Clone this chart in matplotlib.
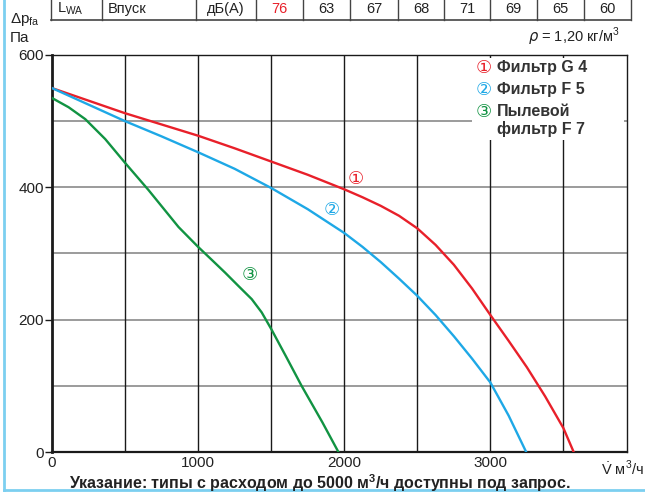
import matplotlib
matplotlib.use("Agg")
import matplotlib.pyplot as plt
from matplotlib.lines import Line2D

# ---- data ----
table_cells = ["L$_{\\mathregular{WA}}$", "Впуск", "дБ(А)", "76", "63", "67", "68", "71", "69", "65", "60"]
table_edges_px = [51, 102, 196, 256, 303, 350, 398, 444, 490, 537, 584, 631]

red_x = [0, 250, 500, 750, 1000, 1250, 1500, 1750, 2000, 2125, 2250, 2375, 2500, 2625, 2750, 2875,
         3000, 3125, 3250, 3375, 3500, 3570]
red_y = [550, 531, 512, 495, 478, 459, 439, 419, 397, 385, 372, 357, 338, 313, 283, 247,
         207, 168, 128, 84, 36, 0]

blue_x = [0, 250, 500, 750, 1000, 1250, 1500, 1750, 2000, 2125, 2250, 2375, 2500, 2625, 2750, 2875,
          3000, 3125, 3245]
blue_y = [550, 525, 500, 477, 453, 428, 399, 367, 331, 310, 287, 262, 236, 207, 175, 141,
          105, 55, 0]

green_x = [0, 114, 228, 364, 500, 660, 866, 1000, 1100, 1185, 1280, 1367, 1435, 1500, 1600, 1708,
           1850, 1960]
green_y = [535, 521, 503, 473, 437, 396, 340, 310, 289, 271, 250, 231, 211, 186, 145, 100,
           45, 0]

series_names = ["Фильтр G 4", "Фильтр F 5", "Пылевой\nфильтр F 7"]
series_marks = ["①", "②", "③"]
colors = ["#e8202a", "#1ea8e6", "#119342"]

x_ticks = [0, 1000, 2000, 3000]
y_ticks = [0, 200, 400, 600]

W, H = 645, 495
fig = plt.figure(figsize=(W / 100, H / 100), dpi=100)
plt.rcParams['font.family'] = ['Liberation Sans', 'DejaVu Sans', 'Noto Sans CJK SC']
plt.rcParams['mathtext.fontset'] = 'custom'
plt.rcParams['mathtext.rm'] = 'Liberation Sans'
markfam = ['DejaVu Sans', 'Noto Sans CJK SC']

def fx(px):
    return px / W

def fy(py):
    return 1 - py / H

ax = fig.add_axes([fx(52), fy(452), fx(627) - fx(52), fy(55) - fy(452)])
ax.set_xlim(0, 3935)
ax.set_ylim(0, 600)

for yv in [100, 200, 300, 400, 500]:
    ax.axhline(yv, color="#8a8a8a", lw=1.2, zorder=1)
for xv in [500, 1000, 1500, 2000, 2500, 3000, 3500]:
    ax.axvline(xv, color="#1a1a1a", lw=1.0, zorder=1)

ax.plot(red_x, red_y, color=colors[0], lw=1.7, zorder=3, solid_joinstyle='round')
ax.plot(blue_x, blue_y, color=colors[1], lw=1.7, zorder=3, solid_joinstyle='round')
ax.plot(green_x, green_y, color=colors[2], lw=1.7, zorder=3, solid_joinstyle='round')

for s in ax.spines.values():
    s.set_color("#1a1a1a")
    s.set_linewidth(1.0)
ax.spines['left'].set_linewidth(2.0)
ax.spines['bottom'].set_linewidth(1.6)

ax.set_xticks(x_ticks)
ax.set_xticklabels([str(v) for v in x_ticks], fontsize=11, color="#222222")
ax.tick_params(axis='x', length=0, pad=3)
ax.set_yticks(y_ticks)
ax.set_yticklabels([str(v) for v in y_ticks], fontsize=11, color="#222222")
ax.tick_params(axis='y', length=5, width=1.0, direction='out', pad=1, color="#1a1a1a")

# curve number labels
ax.text(2080, 413, series_marks[0], color=colors[0], fontsize=13, family=markfam, ha='center', va='center', zorder=4)
ax.text(1915, 365, series_marks[1], color=colors[1], fontsize=13, family=markfam, ha='center', va='center', zorder=4)
ax.text(1355, 268, series_marks[2], color=colors[2], fontsize=13, family=markfam, ha='center', va='center', zorder=4)

# legend box (white background covering grid)
lx0, ly0 = fx(472), fy(140)
fig.patches.append(plt.Rectangle((lx0, ly0), fx(624) - lx0, fy(58) - ly0, transform=fig.transFigure,
                                 facecolor="white", edgecolor="none", zorder=5))
leg_y = [68, 90, 112]
for i in range(3):
    fig.text(fx(484), fy(leg_y[i]), series_marks[i], color=colors[i], fontsize=13, family=markfam,
             ha='center', va='center', zorder=6)
    fig.text(fx(497), fy(leg_y[i] - 8), series_names[i], color="#333333", fontsize=11.5, weight='bold',
             ha='left', va='top', linespacing=1.15, zorder=6)

# top table
tb = 20
fig.add_artist(Line2D([fx(table_edges_px[0]), fx(table_edges_px[-1])], [fy(tb), fy(tb)],
                      transform=fig.transFigure, color="#444444", lw=1.2))
for e in table_edges_px:
    fig.add_artist(Line2D([fx(e), fx(e)], [fy(0), fy(tb)], transform=fig.transFigure,
                          color="#444444", lw=1.0))
for i, t in enumerate(table_cells):
    l, r = table_edges_px[i], table_edges_px[i + 1]
    if i < 2:
        fig.text(fx(l + 6), fy(9), t, fontsize=10.5, ha='left', va='center', color="#222222")
    else:
        fig.text(fx((l + r) / 2), fy(9), t, fontsize=10.5, ha='center', va='center',
                 color=colors[0] if t == "76" else "#222222")

# axis labels
fig.text(fx(10), fy(19), "Δp$_{\\mathregular{fa}}$", fontsize=11, ha='left', va='center', color="#222222")
fig.text(fx(10), fy(38), "Па", fontsize=11, ha='left', va='center', color="#222222")
fig.text(fx(620), fy(37), "$\\rho$ = 1,20 кг/м$^{\\mathregular{3}}$", fontsize=10.5, ha='right', va='center', color="#222222")
fig.text(fx(601), fy(468), "$\\dot{\\mathrm{V}}$ м$^{\\mathregular{3}}$/ч", fontsize=10.5, ha='left', va='center', color="#222222")

# note
fig.text(fx(320), fy(483), "Указание: типы с расходом до 5000 м$^{\\mathregular{3}}$/ч доступны под запрос.",
         fontsize=11.5, weight='bold', ha='center', va='center', color="#222222")

# light blue frame
fig.add_artist(Line2D([fx(4), fx(4)], [fy(0), fy(490)], transform=fig.transFigure, color="#7ccff0", lw=2))
fig.add_artist(Line2D([fx(4), fx(645)], [fy(490), fy(490)], transform=fig.transFigure, color="#7ccff0", lw=2))

fig.savefig("out.png", dpi=100)
